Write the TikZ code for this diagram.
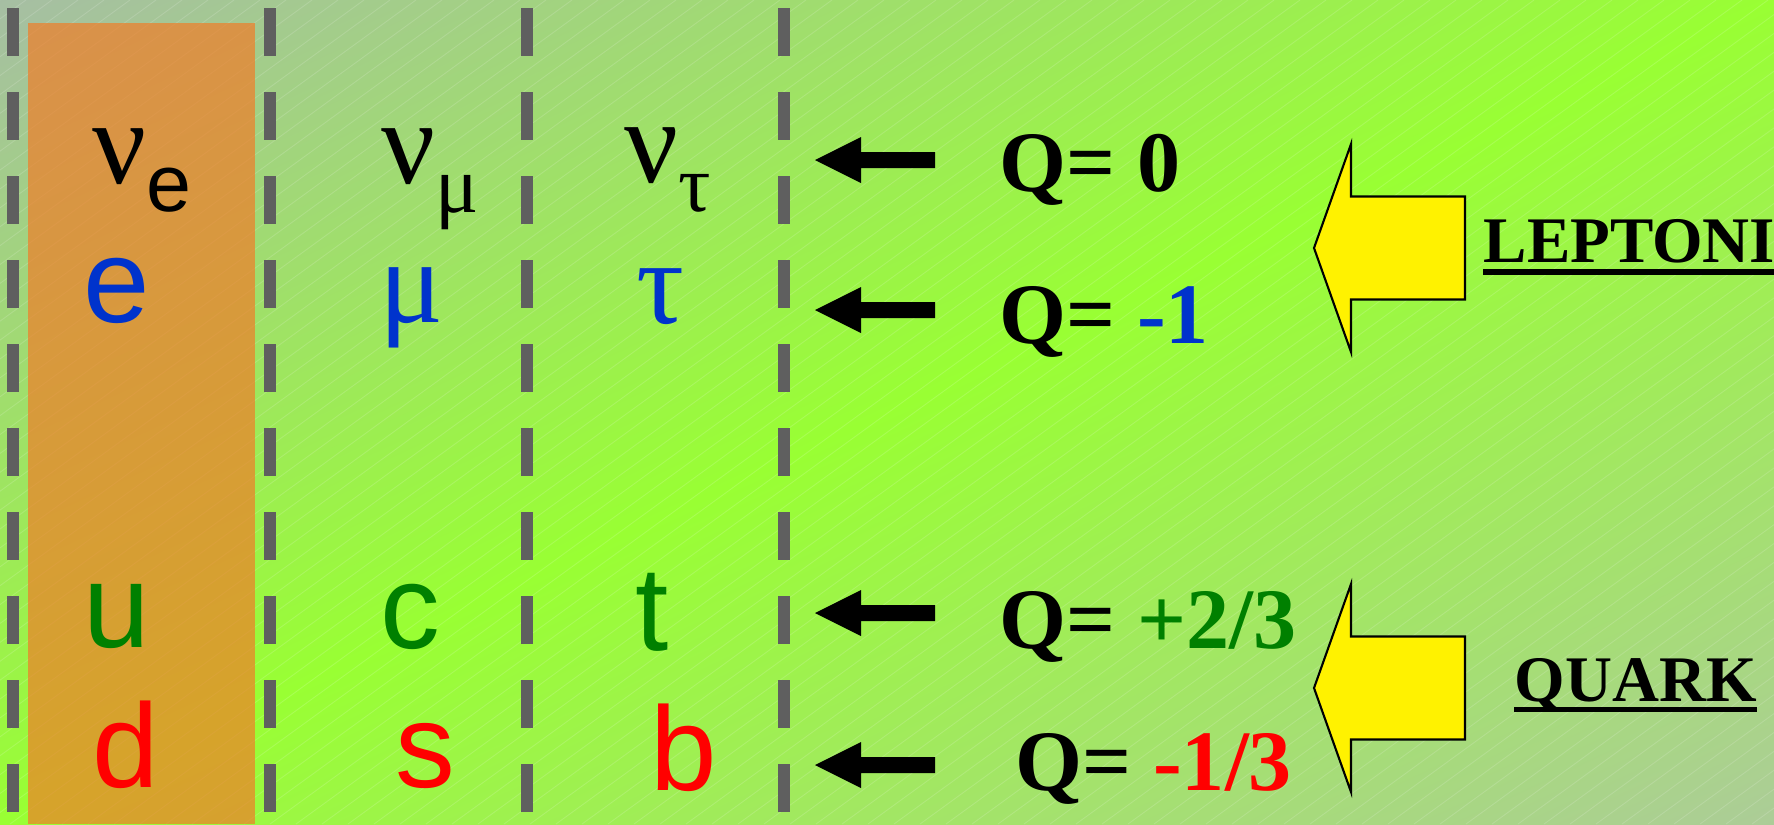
\documentclass[tikz,border=0pt]{standalone}
\usepackage{fontspec}
\usepackage{xcolor}
\usepackage{tikz}
\usetikzlibrary{positioning}
\newfontfamily\arialf{Liberation Sans}
\newfontfamily\timesf{Liberation Serif}

\definecolor{leptblue}{RGB}{0,51,204}
\definecolor{quarkgreen}{RGB}{0,128,0}
\definecolor{quarkred}{RGB}{255,0,0}
\definecolor{dashgray}{RGB}{95,95,95}
\definecolor{bggreen}{RGB}{153,255,51}
\definecolor{bggreytl}{RGB}{166,190,164}
\definecolor{bggreybr}{RGB}{172,204,152}
\definecolor{orangecol}{RGB}{240,125,40}

\tikzset{
  lett/.style={anchor=base, inner sep=0pt, font=\arialf\fontsize{34}{34}\selectfont},
  grk/.style={anchor=base, inner sep=0pt, font=\timesf\fontsize{34}{34}\selectfont},
  charge/.style={anchor=base west, inner sep=0pt, font=\timesf\bfseries\fontsize{24.5}{24.5}\selectfont},
  famname/.style={anchor=base west, inner sep=0pt, font=\timesf\bfseries\fontsize{18.5}{18.5}\selectfont},
  dashline/.style={draw=dashgray, line width=1.2mm, dash pattern=on 4.8mm off 3.6mm},
  stripe/.style={white, opacity=0.15, line width=0.25pt},
  yarrow/.style={fill=yellow, draw=black, line width=0.6pt, line join=miter}
}

\begin{document}
\begin{tikzpicture}[x=0.1mm, y=-0.1mm]
    \useasboundingbox (0,0) rectangle (1774,824);
    % background
    \begin{scope}
        \clip (0,0) rectangle (1774,824);
        \begin{scope}[transform canvas={rotate around={24.9:(887,412)}}]
            \shade[top color=bggreytl, bottom color=bggreybr, middle color=bggreen]
                (-113,-338) rectangle (1887,1162);
        \end{scope}
        \foreach \c in {-1134,-1108,...,1774}
            \draw[stripe] (\c,824) -- ++(1134,-824);
    \end{scope}
    \fill[orangecol, opacity=0.7] (28,23) rectangle (255,824);

    % column separators
    \foreach \x in {13,270,527,784}
        \draw[dashline] (\x,8) -- (\x,824);

    % particles
    \node[grk, anchor=base west] (nue) at (92,183) {ν\lower8pt\hbox{\arialf\fontsize{23}{23}\selectfont e}};
    \node[grk, anchor=base west] (numu) at (381,183) {ν\lower8.5pt\hbox{\fontsize{23}{23}\selectfont μ}};
    \node[grk, anchor=base west] (nutau) at (624,182) {ν\lower8.5pt\hbox{\fontsize{23}{23}\selectfont τ}};
    \node[lett, leptblue] (el) at (117,322) {e};
    \node[grk, leptblue] (mu) at (412,322) {μ};
    \node[grk, leptblue] (tau) at (660,323) {τ};
    \node[lett, quarkgreen] (up) at (117,647) {u};
    \node[lett, quarkgreen] (charm) at (410,648) {c};
    \node[lett, quarkgreen] (topq) at (652,650) {t};
    \node[lett, quarkred] (down) at (126,787) {d};
    \node[lett, quarkred] (strange) at (425,787) {s};
    \node[lett, quarkred] (bottomq) at (684,790) {b};

    % charge arrows
    \foreach \y in {160,310,613,765}
        \fill (815,\y) -- (861,\y-23) -- (861,\y-8) -- (935,\y-8)
            -- (935,\y+8) -- (861,\y+8) -- (861,\y+23) -- cycle;
    \node[charge] (qn) at (999,191) {Q= 0};
    \node[charge] (qe) at (999,343) {Q= {\color{leptblue}-1}};
    \node[charge] (qu) at (999,648) {Q= {\color{quarkgreen}+2/3}};
    \node[charge] (qd) at (1015,790) {Q= {\color{quarkred}-1/3}};

    % families
    \foreach \y in {248,688}
        \draw[yarrow] (1314,\y) -- (1351,\y-104) -- (1351,\y-51.5) -- (1465,\y-51.5)
            -- (1465,\y+51.5) -- (1351,\y+51.5) -- (1351,\y+104) -- cycle;
    \node[famname] (lep) at (1483,262) {LEPTONI};
    \node[famname] (quark) at (1514,701) {QUARK};
    \draw[line width=1.7pt] ([yshift=-2.9pt]lep.base west) -- ([yshift=-2.9pt]lep.base east);
    \draw[line width=1.5pt] ([yshift=-2.4pt]quark.base west) -- ([yshift=-2.4pt]quark.base east);
\end{tikzpicture}
\end{document}
